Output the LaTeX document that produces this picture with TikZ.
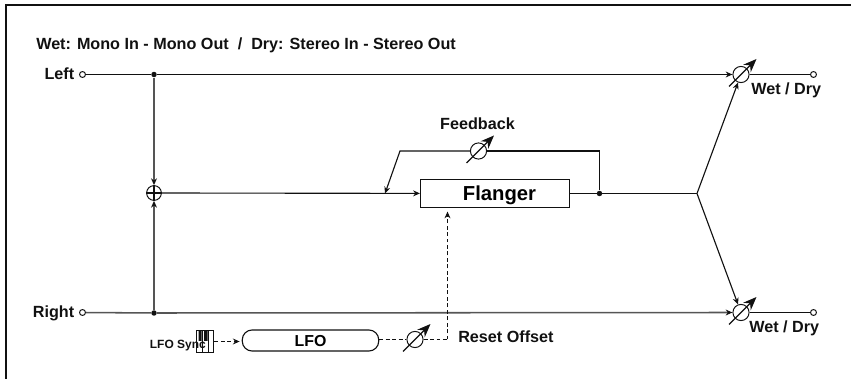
\documentclass[tikz,border=0pt]{standalone}
\usepackage{fontspec}
\setmainfont{Liberation Sans}
\usetikzlibrary{arrows.meta,calc,positioning}
\definecolor{Ink}{HTML}{111111}
\definecolor{SoftGray}{HTML}{555555}
\tikzset{
  port/.style={circle, draw=Ink, fill=white, line width=0.7pt, minimum size=4.2pt, inner sep=0pt},
  joint/.style={circle, fill=Ink, minimum size=3.9pt, inner sep=0pt},
  mixer/.style={circle, draw=Ink, line width=0.7pt, minimum size=10.5pt, inner sep=0pt},
  vca/.style={circle, draw=Ink, line width=0.7pt, minimum size=11.5pt, inner sep=0pt},
  fxbox/.style={draw=Ink, line width=0.8pt, minimum width=106pt, minimum height=20.5pt, inner sep=0pt, text height=10.6pt, text depth=0pt, font=\fontsize{14.4}{16}\selectfont\bfseries},
  lfobox/.style={draw=Ink, line width=0.8pt, rounded corners=7pt, minimum width=97pt, minimum height=15pt, inner sep=0pt, text height=9.2pt, text depth=0pt, font=\fontsize{11.3}{13}\selectfont\bfseries},
  keybox/.style={draw=Ink, fill=white, line width=0.7pt, minimum width=12.5pt, minimum height=15pt, inner sep=0pt},
  lbl/.style={font=\fontsize{11.5}{13}\selectfont\bfseries, text=Ink, inner sep=0pt},
  small/.style={font=\fontsize{8.5}{10}\selectfont\bfseries, text=Ink, inner sep=0pt},
  flow/.style={-{Stealth[length=4.8pt,width=4.2pt,color=Ink]}, line width=0.8pt, draw=Ink},
  wire/.style={line width=0.8pt, draw=Ink},
  graywire/.style={line width=1.1pt, draw=SoftGray},
  grayflow/.style={-{Stealth[length=4.8pt,width=4.2pt,color=Ink]}, line width=1.1pt, draw=SoftGray},
  dashflow/.style={-{Stealth[length=4.8pt,width=4.2pt]}, line width=0.7pt, draw=Ink, dash pattern=on 2.8pt off 1.8pt},
  dashwire/.style={line width=0.7pt, draw=Ink, dash pattern=on 2.8pt off 1.8pt},
  knob/.style={-{Stealth[length=9.5pt,width=7.5pt]}, line width=0.8pt, draw=Ink}
}
\begin{document}
\begin{tikzpicture}[x=0.025cm,y=-0.025cm]
  \useasboundingbox (0,0) rectangle (851,379);
  \draw[Ink,line width=1.4pt] (6,379) -- (6,5) -- (851,5);
  \node[lbl,anchor=base west] (title) at (36,50) {Wet: Mono In - Mono Out\ \ /\ \ Dry: Stereo In - Stereo Out};
  % top and bottom lines
  \node[lbl,anchor=base east] (leftlbl) at (74.5,80) {Left};
  \node[port] (leftin) at (82.5,74.5) {};
  \node[joint] (topjoint) at (154,74.5) {};
  \node[vca] (topvca) at (741,74.5) {};
  \node[port] (leftout) at (813.5,74.5) {};
  \node[lbl,anchor=base west] (topmix) at (751,95) {Wet / Dry};
  \node[lbl,anchor=base east] (rightlbl) at (74.5,318) {Right};
  \node[port] (rightin) at (82.5,312.5) {};
  \node[joint] (botjoint) at (154,313) {};
  \node[vca] (botvca) at (741,312.5) {};
  \node[port] (rightout) at (813.5,312.5) {};
  \node[lbl,anchor=base west] (botmix) at (749,333) {Wet / Dry};
  \draw[wire] (leftin) -- (topjoint);
  \draw[flow] (topjoint) -- (topvca);
  \draw[wire] (topvca) -- (leftout);
  \draw[graywire] (rightin) -- (botjoint);
  \draw[grayflow] (botjoint) -- (botvca);
  \draw[wire] (botvca) -- (rightout);
  % mixer and flanger
  \node[mixer] (sum) at (154,193) {};
  \draw[wire] (sum.north) -- (sum.south) (sum.west) -- (sum.east);
  \draw[grayflow] (topjoint) -- (sum);
  \draw[grayflow] (botjoint) -- (sum);
  \node[fxbox] (flanger) at (495,193.5) {\hspace*{6.4pt}Flanger};
  \coordinate (fbin) at (385,193.5);
  \node[joint] (fbjoint) at (599.5,193.5) {};
  \coordinate (split) at (697,193.5);
  \draw[flow] (sum) -- (flanger);
  \draw[wire] (flanger) -- (split);
  \draw[flow] (split) -- (topvca);
  \draw[flow] (split) -- (botvca);
  % feedback
  \node[vca] (fbvca) at (478.5,151) {};
  \node[lbl,anchor=base] (fblbl) at (477.5,130) {Feedback};
  \coordinate (fbright) at (599.5,151);
  \coordinate (fbleft) at (400,151);
  \draw[wire] (fbjoint) -- (fbright) -- (fbvca);
  \draw[flow] (fbvca) -- (fbleft) -- (fbin);
  % lfo
  \node[lfobox] (lfo) at (310.5,340.5) {LFO};
  \node[keybox] (keys) at (205,341.5) {};
  \fill[Ink] (198.5,331) rectangle (201.5,341) (204,331) rectangle (207.5,341);
  \draw[Ink,line width=0.5pt] (202.8,331) -- (202.8,352) (208.7,331) -- (208.7,352);
  \node[small,anchor=base east] (synclbl) at (206,349) {LFO Sync};
  \node[vca] (lfovca) at (415,339.5) {};
  \coordinate (offcorner) at (447.5,339.5);
  \node[lbl,anchor=base west] (offlbl) at (458,343) {Reset Offset};
  \draw[dashflow,shorten >=1.5pt] (keys) -- (lfo.west |- keys);
  \draw[dashwire] (lfo.east |- lfovca) -- (lfovca);
  \draw[dashwire] (lfovca) -- (offcorner);
  \draw[dashflow,shorten >=2.2pt] (offcorner) -- (flanger.south -| offcorner);
  % variable arrows
  \foreach \v in {topvca,botvca,fbvca,lfovca}{
    \draw[knob] ($(\v)+(-12,12)$) -- ($(\v)+(15.5,-15.5)$);
  }
\end{tikzpicture}
\end{document}
